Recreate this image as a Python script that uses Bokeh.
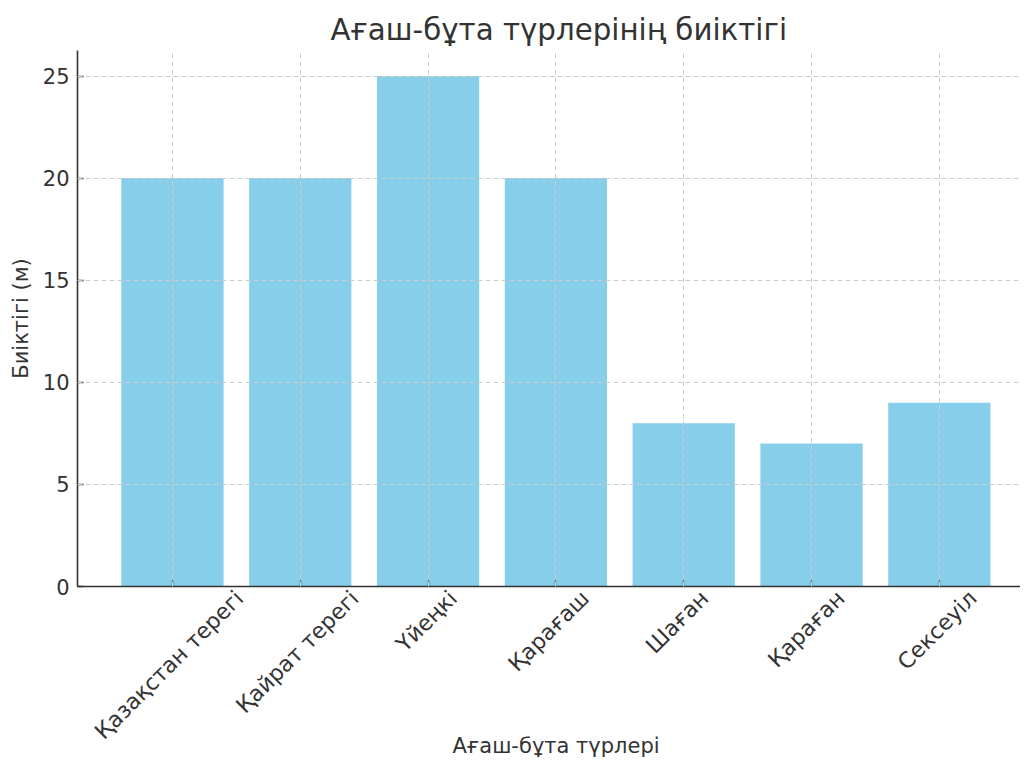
import math
from bokeh.plotting import figure
from bokeh.models import (Range1d, FixedTicker, ColumnDataSource,
                          CustomJSTickFormatter, Title)
from bokeh.embed import file_html
from bokeh.resources import INLINE

# ---- data ----
categories = ["Қазақстан терегі", "Қайрат терегі", "Үйеңкі", "Қарағаш",
              "Шаған", "Қараған", "Сексеуіл"]
heights = [20, 20, 25, 20, 8, 7, 9]
y_ticks = [0, 5, 10, 15, 20, 25]

title_text = "Ағаш-бұта түрлерінің биіктігі"
x_title = "Ағаш-бұта түрлері"
y_title = "Биіктігі (м)"

FONT = "DejaVu Sans"
TXT = "#333333"
BAR = "#87CEEB"

W, H = 1020, 764
BL, BT, BB = 77, 50, 178
X0, X1 = -0.743, 6.635

xs = list(range(len(categories)))
src = ColumnDataSource(dict(x=xs, top=heights))

p = figure(width=W, height=H, output_backend="svg", toolbar_location=None,
           x_range=Range1d(X0, X1), y_range=Range1d(0, 26.25),
           min_border_left=BL, min_border_top=BT, min_border_bottom=BB,
           min_border_right=0)
p.outline_line_color = None
p.background_fill_color = "white"
p.border_fill_color = "white"

p.vbar(x="x", top="top", width=0.8, bottom=0, source=src,
       fill_color=BAR, line_color=None)

# title
p.title.text = title_text
p.title.align = "left"
p.title.offset = 253
p.title.text_font = FONT
p.title.text_font_size = "29.3px"
p.title.text_font_style = "normal"
p.title.text_color = TXT
p.title.standoff = 7

# axes
for ax in (p.xaxis[0], p.yaxis[0]):
    ax.axis_line_color = "#333333"
    ax.axis_line_width = 1.6
    ax.major_tick_line_color = "#333333"
    ax.major_tick_line_width = 1.3
    ax.major_tick_in = 6
    ax.major_tick_out = 0
    ax.minor_tick_line_color = None
    ax.major_label_text_font = FONT
    ax.major_label_text_color = TXT
    ax.major_label_text_font_size = "21px"
    ax.axis_label_text_font = FONT
    ax.axis_label_text_font_style = "normal"
    ax.axis_label_text_color = TXT
    ax.axis_label_text_font_size = "21px"

p.yaxis.ticker = FixedTicker(ticks=y_ticks)
p.yaxis.major_label_standoff = 8
p.yaxis.axis_label = y_title
p.yaxis.axis_label_standoff = 7

# x axis: real ticks as "minor" ticks at the bar centres; the rotated labels
# sit on shifted major positions so each label's bounding box is centred
# under its bar (like a centre-aligned rotated label).
LBL_PX = 22
char_w = 11.3 * LBL_PX / 21
s = math.sin(math.pi / 4)
px_per_unit = (W - BL) / (X1 - X0)
label_pos = [i + s * len(name) * char_w / 2 / px_per_unit
             for i, name in zip(xs, categories)]

xa = p.xaxis[0]
xa.ticker = FixedTicker(ticks=label_pos, minor_ticks=xs)
xa.formatter = CustomJSTickFormatter(args=dict(names=categories),
                                     code="return names[index]")
xa.major_label_orientation = math.pi / 4
xa.major_label_text_font_size = f"{LBL_PX}px"
xa.major_label_standoff = 8
xa.major_tick_line_color = None
xa.minor_tick_line_color = "#333333"
xa.minor_tick_line_width = 1.3
xa.minor_tick_in = 6
xa.minor_tick_out = 0

# x-axis title as a "below" title so it can be placed like the reference
xt = Title(text=x_title, align="left", vertical_align="top", offset=375,
           standoff=-44, text_font=FONT, text_font_size="21px",
           text_font_style="normal", text_color=TXT)
p.add_layout(xt, "below")

# grid (drawn above bars, dashed)
for g in (p.xgrid[0], p.ygrid[0]):
    g.grid_line_color = "#cccccc"
    g.grid_line_dash = "5 3"
    g.grid_line_width = 1
    g.level = "overlay"
p.xgrid.ticker = FixedTicker(ticks=xs)
p.ygrid.ticker = FixedTicker(ticks=y_ticks)

open("out.html", "w").write(file_html(p, INLINE))
